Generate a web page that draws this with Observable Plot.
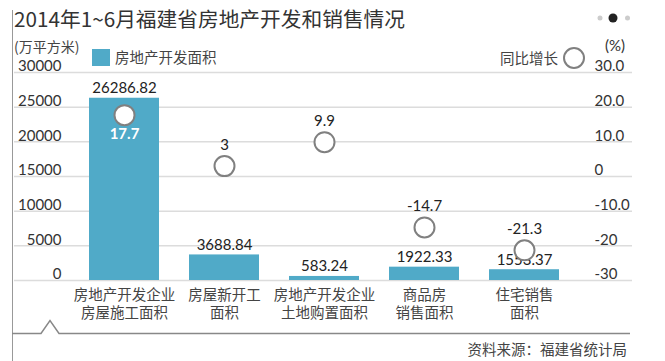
<!DOCTYPE html>
<html><head><meta charset="utf-8">
<script src="https://cdn.jsdelivr.net/npm/d3@7"></script>
<script src="https://cdn.jsdelivr.net/npm/@observablehq/plot@0.6"></script>
<style>
body{margin:0;background:#fff;}
#chart svg{display:block;}
</style></head><body><div id="chart"></div>
<script>
const categories = ["房地产开发企业\n房屋施工面积", "房屋新开工\n面积", "房地产开发企业\n土地购置面积", "商品房\n销售面积", "住宅销售\n面积"];
const areas = [26286.82, 3688.84, 583.24, 1922.33, 1553.37];
const areaLabels = ["26286.82", "3688.84", "583.24", "1922.33", "1553.37"];
const growth = [17.7, 3, 9.9, -14.7, -21.3];
const growthLabels = ["17.7", "3", "9.9", "-14.7", "-21.3"];
const areaTicks = [0, 5000, 10000, 15000, 20000, 25000, 30000];
const areaTickLabels = ["0", "5000", "10000", "15000", "20000", "25000", "30000"];
const growthTicks = [30, 20, 10, 0, -10, -20, -30];
const growthTickLabels = ["30.0", "20.0", "10.0", "0", "-10.0", "-20", "-30"];

const AREA_MAX = 30000, G_MIN = -30, G_MAX = 30;
const toArea = g => (g - G_MIN) / (G_MAX - G_MIN) * AREA_MAX;

const barColor = "#50aac8";
const numFont = "Lato, 'Open Sans', sans-serif";
const cjkFont = "'Noto Sans CJK SC', sans-serif";

const rows = categories.map((c, i) => ({cat: c, area: areas[i], growth: growth[i], areaLabel: areaLabels[i], growthLabel: growthLabels[i], first: i === 0}));
const leftTicks = areaTicks.map((v, i) => ({v, label: areaTickLabels[i]}));
const rightTicks = growthTicks.map((g, i) => ({v: toArea(g), label: growthTickLabels[i]}));

const chart = Plot.plot({
  width: 665, height: 361,
  marginTop: 72, marginBottom: 81, marginLeft: 14, marginRight: 33,
  style: {fontFamily: cjkFont, background: "#fff", color: "#333"},
  x: {domain: categories, range: [74, 574], paddingInner: 0.3, paddingOuter: 0.15, axis: null},
  y: {domain: [0, AREA_MAX], axis: null},
  marks: [
    Plot.ruleY(areaTicks, {stroke: "#dcdcdc", strokeWidth: 1.5}),
    Plot.barY(rows, {x: "cat", y: "area", fill: barColor}),
    Plot.text(leftTicks, {y: "v", text: "label", frameAnchor: "left", dx: 47, dy: -6, textAnchor: "end", fontSize: 15, fontFamily: numFont, fill: "#333"}),
    Plot.text(rightTicks, {y: "v", text: "label", frameAnchor: "right", dx: -38, dy: -6, textAnchor: "start", fontSize: 15, fontFamily: numFont, fill: "#333"}),
    Plot.text(rows, {x: "cat", y: "area", text: "areaLabel", dy: -10, fontSize: 15, fontFamily: numFont, fill: "#222"}),
    Plot.dot(rows, {x: "cat", y: d => toArea(d.growth), r: 10, fill: "white", stroke: "#808080", strokeWidth: 2}),
    Plot.text(rows.filter(d => !d.first), {x: "cat", y: d => toArea(d.growth), text: "growthLabel", dy: -21, fontSize: 15, fontFamily: numFont, fill: "#222"}),
    Plot.text(rows.filter(d => d.first), {x: "cat", y: d => toArea(d.growth), text: "growthLabel", dy: 19, fontSize: 15, fontWeight: "bold", fontFamily: numFont, fill: "white"}),
    Plot.text(rows, {x: "cat", frameAnchor: "bottom", text: "cat", dy: 23, lineAnchor: "middle", lineHeight: 1.18, fontSize: 14.5, fill: "#444"})
  ]
});
document.getElementById("chart").appendChild(chart);

const svg = d3.select(chart);
const g = svg.append("g").attr("text-anchor", "start");
g.append("line").attr("x1", 12.5).attr("x2", 12.5).attr("y1", 10).attr("y2", 361).attr("stroke", "#999").attr("stroke-width", 1);
g.append("text").attr("x", 14).attr("y", 27).attr("text-anchor", "start").attr("font-size", 20).attr("fill", "#333").attr("font-family", cjkFont)
  .attr("textLength", 391).attr("lengthAdjust", "spacingAndGlyphs").text("2014年1~6月福建省房地产开发和销售情况");
g.append("circle").attr("cx", 600).attr("cy", 18).attr("r", 2.5).attr("fill", "#ccc");
g.append("circle").attr("cx", 613).attr("cy", 18).attr("r", 4.5).attr("fill", "#222");
g.append("circle").attr("cx", 627.5).attr("cy", 18).attr("r", 2.5).attr("fill", "#ccc");
g.append("text").attr("x", 14).attr("y", 52).attr("text-anchor", "start").attr("font-size", 14).attr("fill", "#444").attr("font-family", cjkFont).text("(万平方米)");
g.append("rect").attr("x", 92).attr("y", 49).attr("width", 18).attr("height", 17).attr("fill", barColor);
g.append("text").attr("x", 115).attr("y", 63).attr("text-anchor", "start").attr("font-size", 14.5).attr("fill", "#444").attr("font-family", cjkFont).text("房地产开发面积");
g.append("text").attr("x", 558).attr("y", 64).attr("text-anchor", "end").attr("font-size", 14.5).attr("fill", "#444").attr("font-family", cjkFont).text("同比增长");
g.append("circle").attr("cx", 574).attr("cy", 58).attr("r", 10).attr("fill", "white").attr("stroke", "#808080").attr("stroke-width", 2);
g.append("text").attr("x", 605).attr("y", 51).attr("text-anchor", "start").attr("font-size", 15).attr("fill", "#333").attr("font-family", numFont).text("(%)");
g.append("path").attr("d", "M12,333.5H41L50,320.5L59,333.5H630").attr("fill", "none").attr("stroke", "#888").attr("stroke-width", 1.5);
g.append("text").attr("x", 627).attr("y", 355).attr("text-anchor", "end").attr("font-size", 14.5).attr("fill", "#444").attr("font-family", cjkFont).text("资料来源：福建省统计局");
</script>
</body></html>
